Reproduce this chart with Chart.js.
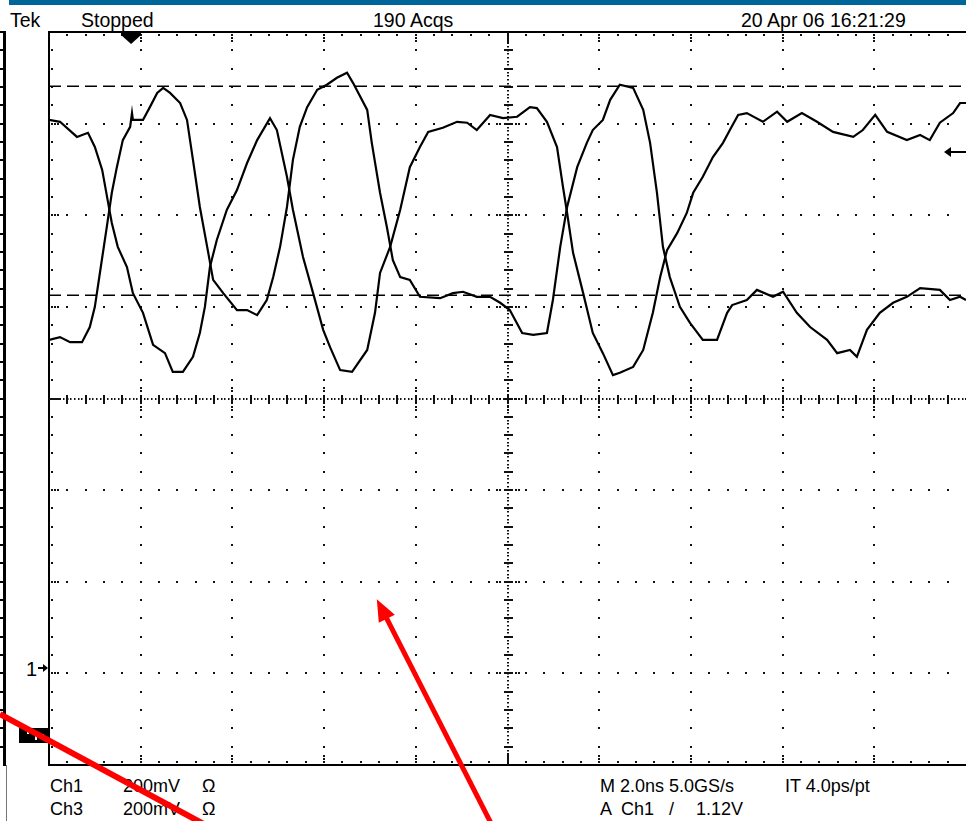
<!DOCTYPE html>
<html><head><meta charset="utf-8">
<script src="https://cdn.jsdelivr.net/npm/chart.js@4"></script>
<style>
html,body{margin:0;padding:0;background:#fff;overflow:hidden;width:966px;height:821px;}
#wrap{position:relative;width:966px;height:821px;background:#fff;}
#c{position:absolute;left:0;top:0;}
.t{position:absolute;font-family:"Liberation Sans",Arial,sans-serif;color:#000;white-space:pre;}
.h{font-size:19.5px;line-height:19.5px;top:10.5px;}
.f{font-size:18px;line-height:18px;}
.r1{top:777px;}
.r2{top:800px;}
#bar{position:absolute;left:9px;top:0;width:957px;height:5px;background:#00669a;}
</style></head>
<body><div id="wrap">
<div id="bar"></div>
<div class="t h" style="left:10px">Tek</div>
<div class="t h" style="left:81px">Stopped</div>
<div class="t h" style="left:373px">190 Acqs</div>
<div class="t h" style="left:741px">20 Apr 06 16:21:29</div>
<div class="t f r1" style="left:50px">Ch1</div>
<div class="t f r1" style="left:123px">200mV</div>
<div class="t f r1" style="left:202px">Ω</div>
<div class="t f r1" style="left:600px">M 2.0ns 5.0GS/s</div>
<div class="t f r1" style="left:785px">IT 4.0ps/pt</div>
<div class="t f r2" style="left:50px">Ch3</div>
<div class="t f r2" style="left:123px">200mV</div>
<div class="t f r2" style="left:202px">Ω</div>
<div class="t f r2" style="left:600px">A</div>
<div class="t f r2" style="left:621px">Ch1</div>
<div class="t f r2" style="left:669px">/</div>
<div class="t f r2" style="left:696px">1.12V</div>
<div class="t" style="left:26px;top:659px;font-size:20px;line-height:20px">1</div>
<canvas id="c" width="966" height="821"></canvas>
</div>
<script>
// ---- data (time in ns, amplitude in mV; 2.0 ns/div, 200 mV/div) ----
const ch1Time = [0.0,0.24,0.46,0.72,0.89,1.00,1.11,1.26,1.37,1.48,1.61,1.77,1.81,1.83,2.05,2.20,2.36,2.49,2.64,2.86,3.01,3.14,3.29,3.45,3.58,3.80,4.10,4.32,4.54,4.75,4.89,5.04,5.19,5.32,5.47,5.63,5.85,6.06,6.28,6.50,6.63,6.94,7.04,7.22,7.37,7.50,7.66,7.87,8.09,8.53,8.81,9.03,9.33,9.62,9.84,10.05,10.32,10.56,10.86,10.99,11.15,11.30,11.52,11.73,11.86,12.08,12.24,12.45,12.74,12.96,13.11,13.26,13.39,13.54,13.76,13.98,14.26,14.57,14.79,14.90,15.22,15.44,15.79,16.01,16.31,16.60,16.97,17.19,17.47,17.62,17.84,18.12,18.41,18.71,19.00,19.43,19.65,19.87,20.0];
const ch1Millivolts = [128,134,123,123,156,200,274,374,449,505,564,593,623,608,608,636,667,678,667,645,608,521,418,331,259,230,193,193,182,215,265,331,418,521,593,636,674,685,700,711,689,630,558,449,374,302,265,259,222,219,230,233,222,222,209,193,143,139,143,215,331,418,505,558,586,608,652,685,678,630,558,449,331,265,200,165,128,128,187,204,215,237,222,233,187,156,128,99,106,91,150,187,209,222,241,237,215,222,215];
const ch3Time = [0.0,0.24,0.61,0.85,1.00,1.16,1.29,1.37,1.50,1.70,1.83,2.05,2.27,2.53,2.70,2.92,3.14,3.29,3.40,3.51,3.66,3.88,4.10,4.32,4.54,4.82,4.97,5.19,5.32,5.54,5.76,5.98,6.13,6.35,6.61,6.94,7.11,7.22,7.44,7.66,7.87,8.09,8.27,8.59,8.90,9.12,9.33,9.62,9.90,10.21,10.49,10.64,10.86,11.08,11.21,11.30,11.43,11.65,11.86,12.08,12.30,12.45,12.74,12.96,13.17,13.33,13.48,13.70,13.91,14.05,14.26,14.48,14.70,14.85,15.03,15.22,15.57,15.88,16.10,16.42,16.75,17.10,17.54,17.75,18.02,18.28,18.71,19.00,19.21,19.43,19.72,19.87,20.0];
const ch3Millivolts = [608,604,571,580,549,499,427,383,331,287,230,187,117,99,58,58,91,143,200,287,346,412,455,514,564,612,586,484,412,309,230,150,112,62,58,106,187,274,331,412,505,549,582,591,604,602,586,619,612,615,636,634,604,549,462,405,318,230,143,99,51,56,69,106,187,265,324,361,405,449,484,527,558,586,619,623,604,626,604,623,604,582,571,586,619,582,564,575,564,602,623,645,645];
const cursorLevels = [682, 226];          // mV, dashed horizontal cursors
const triggerTime = 1.79;                 // ns, trigger position marker
const triggerLevel = 538;                 // mV, trigger level arrow
const xMin = 0, xMax = 20, xMajor = 2;    // ns
const yMin = -800, yMax = 800, yMajor = 200; // mV
const redLine = [[-1.07,-689],[3.62,-942]];     // [ns, mV] annotation line
const redArrow = [[9.66,-931],[7.15,-438]];     // [ns, mV] tail -> tip

const graticule = {
  id:'graticule',
  beforeDatasetsDraw(chart){
    const ctx = chart.ctx, xs = chart.scales.x, ys = chart.scales.y, a = chart.chartArea;
    const X = v => xs.getPixelForValue(v), Y = v => ys.getPixelForValue(v);
    const dot = (x,y,w=2,h=2)=>ctx.fillRect(Math.round(x-w/2),Math.round(y-h/2),w,h);
    ctx.save();
    ctx.fillStyle = '#111';
    const nx = Math.round((xMax-xMin)/xMajor)*5, ny = Math.round((yMax-yMin)/yMajor)*5;
    const xm = (xMax-xMin)/nx, ym = (yMax-yMin)/ny;
    const cx = Math.round(nx/2), cy = Math.round(ny/2);
    for(let i=5;i<nx;i+=5){ if(i===cx) continue;
      const x = X(xMin+i*xm);
      for(let j=1;j<ny;j++) dot(x, Y(yMin+j*ym));
    }
    for(let k=5;k<ny;k+=5){ if(k===cy) continue;
      const y = Y(yMin+k*ym);
      for(let j=1;j<nx;j++) dot(X(xMin+j*xm), y);
    }
    const x0 = X(xMin+cx*xm), y0 = Y(yMin+cy*ym);
    for(let v=yMin; v<=yMax; v+=ym/5) dot(x0, Y(v), 2, 1.5);
    for(let j=1;j<ny;j++){ const y=Y(yMin+j*ym); ctx.fillRect(Math.round(x0-4),Math.round(y-1),9,2);
      if(j%5===0){ dot(x0-8,y); dot(x0+8,y); dot(x0-11,y); dot(x0+11,y);} }
    for(let t=xMin; t<=xMax; t+=xm/5) dot(X(t), y0, 1.5, 2);
    for(let j=1;j<nx;j++){ const x=X(xMin+j*xm); ctx.fillRect(Math.round(x-1),Math.round(y0-4),2,9);
      if(j%5===0){ dot(x,y0-8); dot(x,y0+8); dot(x,y0-11); dot(x,y0+11);} }
    ctx.fillStyle = '#000';
    ctx.fillRect(a.left-1, a.top-1, 2, a.bottom-a.top+2);
    ctx.fillRect(a.left-1, a.top-1, a.right-a.left+2, 2);
    ctx.fillRect(a.left-1, a.bottom-1, a.right-a.left+2, 2);
    ctx.fillStyle = '#111';
    for(let j=1;j<nx;j++){ const x=X(xMin+j*xm);
      if(j===cx){ ctx.fillRect(Math.round(x-1),a.top,2,12); ctx.fillRect(Math.round(x-1),a.bottom-12,2,12); continue; }
      dot(x,a.top+3); dot(x,a.bottom-3);
      if(j%5===0){ dot(x,a.top+6); dot(x,a.top+9); dot(x,a.bottom-6); dot(x,a.bottom-9); }
    }
    for(let j=1;j<ny;j++){ const y=Y(yMin+j*ym);
      if(j===cy){ ctx.fillRect(a.left,Math.round(y-1),12,2); continue; }
      dot(a.left+3,y);
      if(j%5===0){ dot(a.left+6,y); dot(a.left+9,y); }
    }
    ctx.strokeStyle = '#000'; ctx.lineWidth = 1.5; ctx.setLineDash([12,6]);
    cursorLevels.forEach(c=>{ const y=Math.round(Y(c))+0.25; ctx.beginPath(); ctx.moveTo(a.left,y); ctx.lineTo(a.right,y); ctx.stroke(); });
    ctx.setLineDash([]);
    ctx.fillStyle = '#000';
    const tx = X(triggerTime);
    ctx.beginPath(); ctx.moveTo(tx-10,a.top); ctx.lineTo(tx+10,a.top); ctx.lineTo(tx+10,a.top+3); ctx.lineTo(tx,a.top+12); ctx.lineTo(tx-10,a.top+3); ctx.closePath(); ctx.fill();
    const ty = Math.round(Y(triggerLevel));
    ctx.fillRect(a.right-20, ty-1, 20, 2);
    ctx.beginPath(); ctx.moveTo(a.right-22,ty); ctx.lineTo(a.right-15,ty-5); ctx.lineTo(a.right-15,ty+5); ctx.closePath(); ctx.fill();
    const my = 668;
    ctx.fillRect(a.left-11, my-1, 9, 2);
    ctx.beginPath(); ctx.moveTo(a.left-1,my); ctx.lineTo(a.left-6,my-4); ctx.lineTo(a.left-6,my+4); ctx.closePath(); ctx.fill();
    ctx.fillRect(a.left-30, 728, 30, 15);
    ctx.fillStyle = '#fff';
    ctx.fillRect(a.left-22, 732, 2, 2); ctx.fillRect(a.left-14, 732, 2, 8); ctx.fillRect(a.left-8, 734, 3, 4);
    ctx.fillStyle = '#000';
    ctx.fillRect(3, a.top-1, 3, a.bottom-a.top+2);
    ctx.fillRect(0, a.top-1, 6, 2);
    for(let j=1;j<ny;j++){ const y=Y(yMin+j*ym); ctx.fillRect(0, Math.round(y-1), 3, 2); }
    ctx.fillStyle = '#777';
    ctx.fillRect(6, a.bottom, 1, 821-a.bottom);
    ctx.restore();
  },
  afterDraw(chart){
    const ctx = chart.ctx, xs = chart.scales.x, ys = chart.scales.y;
    const P = p => [xs.getPixelForValue(p[0]), ys.getPixelForValue(p[1])];
    ctx.save();
    ctx.strokeStyle = '#ff0000'; ctx.fillStyle = '#ff0000'; ctx.lineWidth = 6;
    let [x1,y1] = P(redLine[0]), [x2,y2] = P(redLine[1]);
    ctx.beginPath(); ctx.moveTo(x1,y1); ctx.lineTo(x2,y2); ctx.stroke();
    const [ax,ay] = P(redArrow[0]), [bx,by] = P(redArrow[1]);
    const dx=bx-ax, dy=by-ay, L=Math.hypot(dx,dy), ux=dx/L, uy=dy/L;
    const hl=22, hw=9, cxp=bx-ux*hl, cyp=by-uy*hl;
    ctx.lineWidth = 5;
    ctx.beginPath(); ctx.moveTo(ax,ay); ctx.lineTo(cxp+ux*2,cyp+uy*2); ctx.stroke();
    ctx.beginPath(); ctx.moveTo(bx,by); ctx.lineTo(cxp-uy*hw, cyp+ux*hw); ctx.lineTo(cxp+uy*hw, cyp-ux*hw); ctx.closePath(); ctx.fill();
    ctx.restore();
  }
};

const toPts = (t,v)=>t.map((x,i)=>({x, y:v[i]}));
new Chart(document.getElementById('c'), {
  type:'line',
  data:{datasets:[
    {label:'Ch1', data:toPts(ch1Time,ch1Millivolts), borderColor:'#000', borderWidth:2.2, pointRadius:0, tension:0, fill:false},
    {label:'Ch3', data:toPts(ch3Time,ch3Millivolts), borderColor:'#000', borderWidth:2.2, pointRadius:0, tension:0, fill:false}
  ]},
  options:{
    responsive:false, animation:false, devicePixelRatio:1, events:[],
    layout:{padding:{left:49, top:32, right:0, bottom:56}},
    scales:{
      x:{type:'linear', min:xMin, max:xMax, display:false},
      y:{type:'linear', min:yMin, max:yMax, display:false}
    },
    plugins:{legend:{display:false}, tooltip:{enabled:false}}
  },
  plugins:[graticule]
});
</script>
</body></html>
